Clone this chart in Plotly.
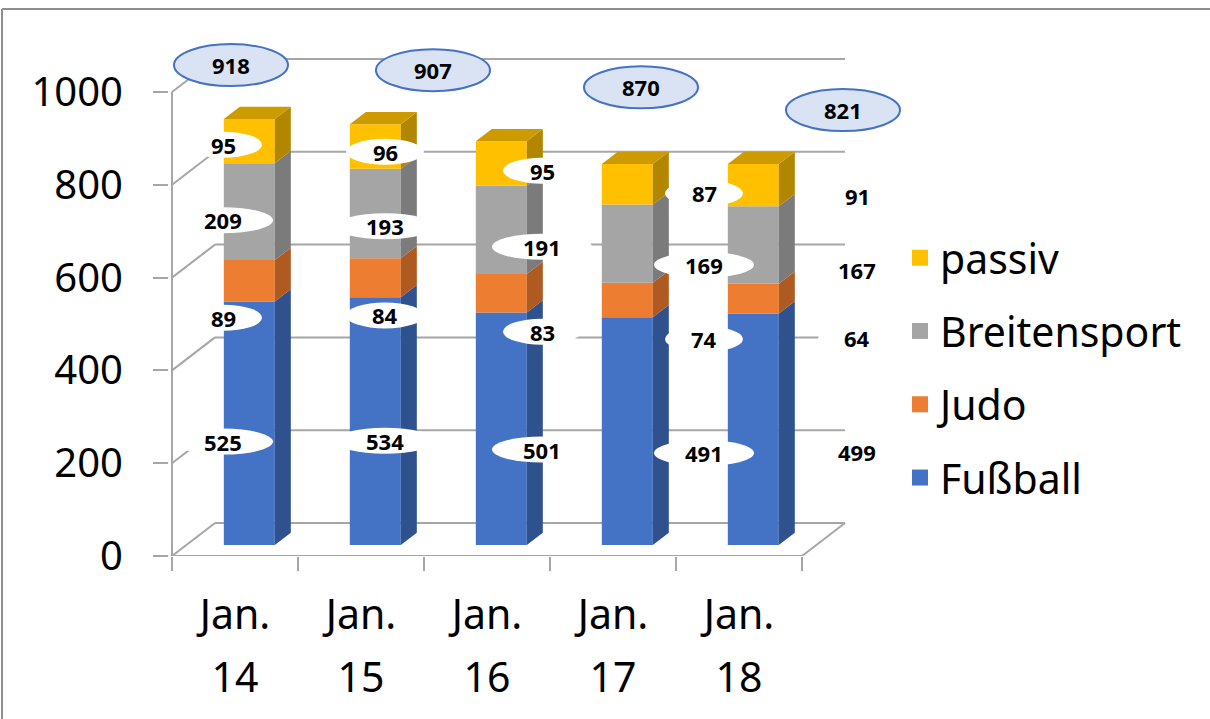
import plotly.graph_objects as go

# ---------------- data ----------------
categories = ["Jan. 14", "Jan. 15", "Jan. 16", "Jan. 17", "Jan. 18"]
fussball = [525, 534, 501, 491, 499]
judo = [89, 84, 83, 74, 64]
breitensport = [209, 193, 191, 169, 167]
passiv = [95, 96, 95, 87, 91]
y_ticks = [0, 200, 400, 600, 800, 1000]
legend_order = ["passiv", "Breitensport", "Judo", "Fußball"]

# ---------------- style / geometry ----------------
FONT = "Noto Sans"
W, H = 1210, 719
PX_CAT = 126.0        # pixels per category
PX_VAL = 0.464        # pixels per value unit
X0_PX, Y0_PX = 172.0, 556.0       # front-left-bottom corner
PLOT_L, PLOT_R, PLOT_T = 169.0, 905.0, 30.0
DX, DY = 43.0 / PX_CAT, 33.0 / PX_VAL          # depth of the 3D box
FX, FY = 0.333 * DX, 0.333 * DY                # bar front plane
SDX, SDY = 0.372 * DX, 0.372 * DY              # bar depth
BW = 51.0 / PX_CAT
GRID = "#A6A6A6"

styles = {
    "Fußball": dict(front="#4472C4", side="#2F528F", top="#3A62A8"),
    "Judo": dict(front="#ED7D31", side="#AE5A21", top="#C96A29"),
    "Breitensport": dict(front="#A5A5A5", side="#7B7B7B", top="#8C8C8C"),
    "passiv": dict(front="#FFC000", side="#B38600", top="#CD9B00"),
}
# label placement (pixel drift per category, value shift per series)
lab_dx_px = [-12, 24, 55, 91, 118]
lab_dy = {"Fußball": (-16, -2.5), "Judo": (-56, -1.5), "Breitensport": (5, -9), "passiv": (16, -4)}
tot_dx_px = [-4, 72, 154, 230]
tot_dy = 140

series = [("Fußball", fussball), ("Judo", judo), ("Breitensport", breitensport), ("passiv", passiv)]
n = len(categories)
xi = list(range(n))
months = [c.split(" ")[0] for c in categories]
years = [c.split(" ")[1] for c in categories]

x_lo = -0.5 - (X0_PX - PLOT_L) / PX_CAT
x_hi = -0.5 + (PLOT_R - X0_PX) / PX_CAT
y_hi = (Y0_PX - PLOT_T) / PX_VAL

fig = go.Figure()
shapes = []
annotations = []

# back wall gridlines + floor (below traces)
gl = dict(color=GRID, width=2)
for v in y_ticks:
    shapes.append(dict(type="line", xref="x", yref="y", x0=-0.5, y0=v, x1=-0.5 + DX, y1=v + DY, line=gl, layer="below"))
    shapes.append(dict(type="line", xref="x", yref="y", x0=-0.5 + DX, y0=v + DY, x1=n - 0.5 + DX, y1=v + DY, line=gl, layer="below"))
shapes.append(dict(type="line", xref="x", yref="y", x0=-0.5, y0=0, x1=-0.5, y1=y_ticks[-1], line=gl, layer="below"))
shapes.append(dict(type="line", xref="x", yref="y", x0=-0.5, y0=0, x1=n - 0.5, y1=0, line=gl, layer="below"))
shapes.append(dict(type="line", xref="x", yref="y", x0=n - 0.5, y0=0, x1=n - 0.5 + DX, y1=DY, line=gl, layer="below"))

cum = [0] * n
for name, vals in series:
    st = styles[name]
    base = cum[:]
    fig.add_trace(go.Bar(
        x=[i + FX for i in xi], y=vals, base=[b + FY for b in base], width=BW,
        marker=dict(color=st["front"], line=dict(width=0)), showlegend=False, name=name,
        hoverinfo="skip"))
    sx, sy = [], []
    for i in xi:
        xr = i + FX + BW / 2
        b, t = base[i] + FY, base[i] + vals[i] + FY
        sx += [xr, xr + SDX, xr + SDX, xr, xr, None]
        sy += [b, b + SDY, t + SDY, t, b, None]
    fig.add_trace(go.Scatter(x=sx, y=sy, mode="lines", fill="toself", fillcolor=st["side"],
                             line=dict(width=0, color=st["side"]), showlegend=False, hoverinfo="skip"))
    cum = [c + v for c, v in zip(cum, vals)]

# top faces of the stacks
st = styles["passiv"]
tx, ty = [], []
for i in xi:
    xl, xr = i + FX - BW / 2, i + FX + BW / 2
    t = cum[i] + FY
    tx += [xl, xr, xr + SDX, xl + SDX, xl, None]
    ty += [t, t, t + SDY, t + SDY, t, None]
fig.add_trace(go.Scatter(x=tx, y=ty, mode="lines", fill="toself", fillcolor=st["top"],
                         line=dict(width=0, color=st["top"]), showlegend=False, hoverinfo="skip"))

# data labels in white ellipses
cum = [0] * n
for name, vals in series:
    a, b = lab_dy[name]
    for i in xi:
        lx = i + lab_dx_px[i] / PX_CAT
        ly = cum[i] + vals[i] / 2 + a + b * i
        w = 100 if vals[i] >= 100 else 78
        shapes.append(dict(type="circle", xref="x", yref="y", xsizemode="pixel", ysizemode="pixel",
                           xanchor=lx, yanchor=ly, x0=-w / 2, x1=w / 2, y0=-13, y1=13,
                           fillcolor="white", line=dict(width=0), layer="above"))
        annotations.append(dict(x=lx, y=ly, xref="x", yref="y", text=str(vals[i]), showarrow=False,
                                font=dict(family=FONT, size=22, color="black", weight="bold")))
    cum = [c + v for c, v in zip(cum, vals)]

# totals in blue ellipses (the last one falls outside the chart in the original)
totals = cum
for i in range(len(tot_dx_px)):
    lx = i + tot_dx_px[i] / PX_CAT
    ly = totals[i] + tot_dy
    shapes.append(dict(type="circle", xref="x", yref="y", xsizemode="pixel", ysizemode="pixel",
                       xanchor=lx, yanchor=ly, x0=-57, x1=57, y0=-21, y1=21,
                       fillcolor="#DAE3F3", line=dict(color="#4472C4", width=2), layer="above"))
    annotations.append(dict(x=lx, y=ly, xref="x", yref="y", text=str(totals[i]), showarrow=False,
                            font=dict(family=FONT, size=22, color="black", weight="bold")))

# chart border (top and left edges only are visible in the original)
pw = PLOT_R - PLOT_L
ph = Y0_PX - PLOT_T
bx0, by1 = (2 - PLOT_L) / pw, (Y0_PX - 9) / ph
bline = dict(color="#8F8F8F", width=2)
shapes.append(dict(type="line", xref="paper", yref="paper", x0=bx0, x1=(W - PLOT_L) / pw,
                   y0=by1, y1=by1, line=bline, layer="below"))
shapes.append(dict(type="line", xref="paper", yref="paper", x0=bx0, x1=bx0,
                   y0=(Y0_PX - H) / ph, y1=by1, line=bline, layer="below"))

# legend entries
for name in legend_order:
    fig.add_trace(go.Scatter(x=[None], y=[None], mode="markers", name=name, legendgroup=name,
                             marker=dict(symbol="square", size=16, color=styles[name]["front"])))

# invisible traces on the label axes
for ax in ("x2", "x3"):
    fig.add_trace(go.Scatter(x=[0], y=[0], xaxis=ax, mode="none", showlegend=False, hoverinfo="skip"))

lab_font = dict(family=FONT, size=41, color="black")
fig.update_layout(
    width=W, height=H,
    margin=dict(l=PLOT_L, r=W - PLOT_R, t=PLOT_T, b=H - Y0_PX),
    paper_bgcolor="white", plot_bgcolor="white",
    barmode="overlay",
    font=dict(family=FONT, color="black"),
    xaxis=dict(range=[x_lo, x_hi], tickvals=[i - 0.5 for i in range(n + 1)], ticks="outside",
               ticklen=14, tickwidth=2, tickcolor=GRID, showticklabels=False,
               showgrid=False, zeroline=False, showline=False),
    xaxis2=dict(range=[x_lo, x_hi], overlaying="x", side="bottom", anchor="y",
                tickvals=xi, ticktext=months, ticks="", showgrid=False, zeroline=False,
                showline=False, tickfont=lab_font, ticklabelstandoff=31),
    xaxis3=dict(range=[x_lo, x_hi], overlaying="x", side="bottom", anchor="y",
                tickvals=xi, ticktext=years, ticks="", showgrid=False, zeroline=False,
                showline=False, tickfont=lab_font, ticklabelstandoff=94),
    yaxis=dict(range=[0, y_hi], tickvals=y_ticks, ticks="outside", ticklen=15, tickwidth=2,
               tickcolor=GRID, showgrid=False, zeroline=False, showline=False,
               tickfont=dict(family=FONT, size=40, color="black"), ticklabelstandoff=22),
    legend=dict(x=(900 - PLOT_L) / pw, xanchor="left", y=(Y0_PX - 368) / ph, yanchor="middle",
                font=dict(family=FONT, size=41, color="black"), traceorder="grouped",
                tracegroupgap=17, bgcolor="rgba(0,0,0,0)"),
    shapes=shapes, annotations=annotations, showlegend=True,
)

fig.write_html("out.html", config={"displayModeBar": False},
               post_script="document.body.style.margin='0';")
